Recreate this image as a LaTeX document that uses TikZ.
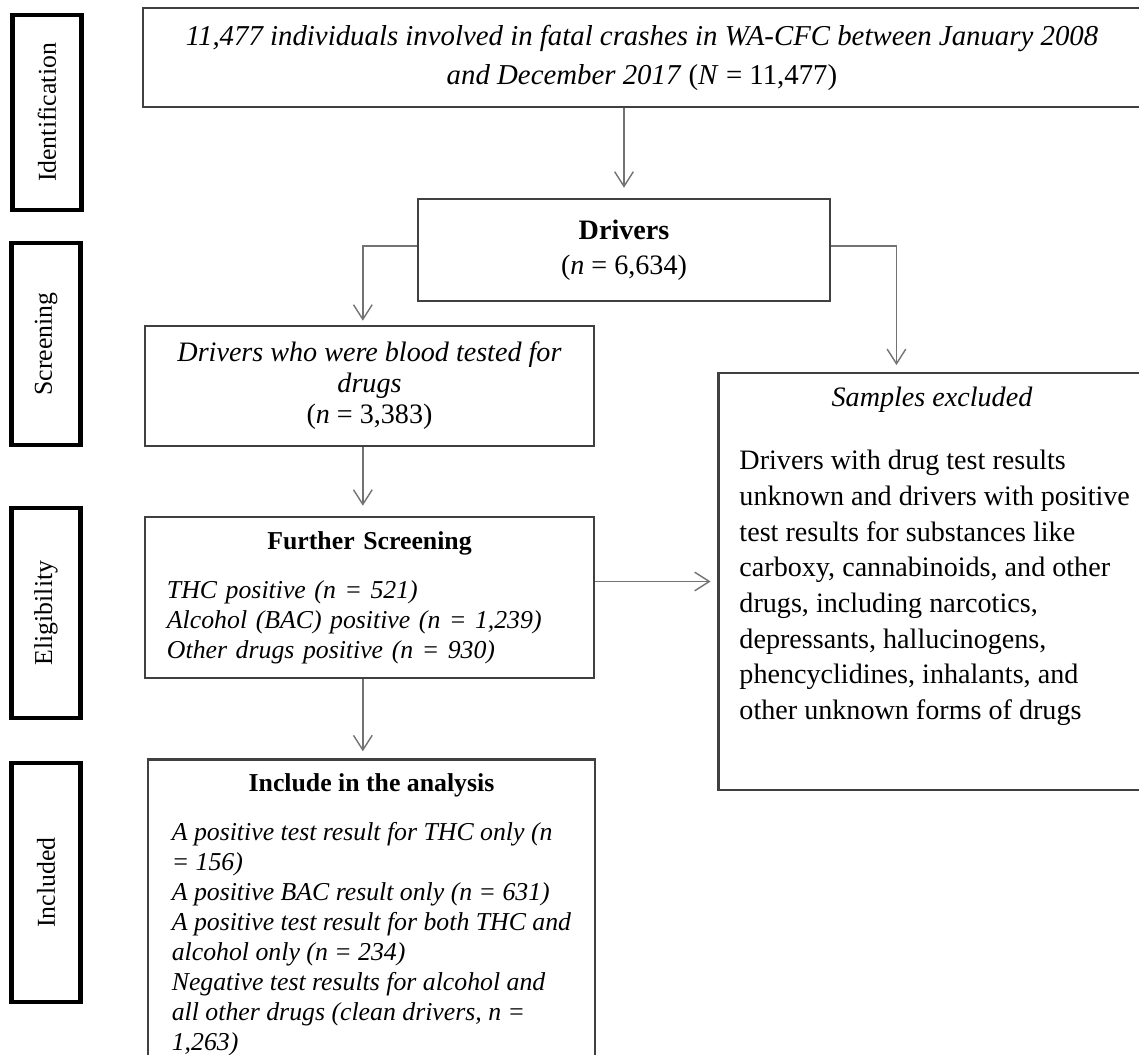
\documentclass[tikz,border=0pt]{standalone}
\usepackage{fontspec}
\setmainfont{Liberation Serif}
\usetikzlibrary{arrows.meta}

\tikzset{
  box/.style={draw=black!75, line width=1.1pt, inner sep=0pt, align=center},
  stage/.style={draw=black, line width=1.8pt, rotate=90, minimum height=1.035cm, inner sep=0pt, font=\fontsize{11}{13}\selectfont},
  link/.style={draw=black!55, line width=0.6pt, -{Straight Barb[length=0.22cm,width=0.28cm]}, shorten >=0.1cm},
}

\begin{document}
\begin{tikzpicture}[x=0.015cm, y=-0.015cm]

  % Rahmen
  \useasboundingbox (0,0) rectangle (1139,1055);
  \clip (0,0) rectangle (1139,1055);

  % Phasen links
  \node[stage, minimum width=2.925cm] (ident) at (47,112.5) {Identification};
  \node[stage, minimum width=3.03cm] (screen) at (46,344) {Screening};
  \node[stage, minimum width=3.15cm] (elig) at (46,613) {Eligibility};
  \node[stage, minimum width=3.585cm] (incl) at (46,882.5) {Included};

  % Kaesten
  \node[box, minimum width=14.97cm, minimum height=1.485cm, font=\fontsize{12.3}{16.6}\selectfont] (cohort) at (642,57.5)
    {\textit{11,477 individuals involved in fatal crashes in WA-CFC between January 2008}\\\textit{and December 2017} (\textit{N} = 11,477)};
  \node[box, minimum width=6.18cm, minimum height=1.53cm, font=\fontsize{12}{14.9}\selectfont] (drv) at (624,250)
    {\textbf{Drivers}\\(\textit{n} = 6,634)};
  \node[box, minimum width=6.735cm, minimum height=1.8cm, font=\fontsize{12}{13.2}\selectfont] (blood) at (369.5,386)
    {\textit{Drivers who were blood tested for}\\\textit{drugs}\\(\textit{n} = 3,383)};
  \node[box, minimum width=6.735cm, minimum height=2.415cm, text width=6.075cm, align=left, font=\fontsize{11}{12.8}\selectfont] (further) at (369.5,597.5)
    {\makebox[\hsize]{\textbf{Further Screening}}\\[8pt]
     \textit{THC positive (n = 521)}\\
     \textit{Alcohol (BAC) positive (n = 1,239)}\\
     \textit{Other drugs positive (n = 930)}};

  % Analyse (unten abgeschnitten)
  \node[box, anchor=north, minimum width=6.705cm, inner xsep=0pt, inner ysep=0.94cm, align=left, font=\fontsize{11}{12.8}\selectfont] (analysis) at (371.5,758)
    {\textit{A positive test result for THC only (n}\\
     \textit{= 156)}\\
     \textit{A positive BAC result only (n = 631)}\\
     \textit{A positive test result for both THC and}\\
     \textit{alcohol only (n = 234)}\\
     \textit{Negative test results for alcohol and}\\
     \textit{all other drugs (clean drivers, n =}\\
     \textit{1,263)}};
  \node[anchor=base, font=\fontsize{11}{13}\selectfont] (analysishead) at (371.5,791) {\textbf{Include in the analysis}};

  % Ausschluss
  \node[box, minimum width=6.336cm, minimum height=6.255cm] (excl) at (929.8,581.5) {};
  \node[anchor=base, font=\fontsize{12}{15}\selectfont] (exclhead) at (932,406.5) {\textit{Samples excluded}};
  \node[anchor=north west, align=left, inner sep=0pt, font=\fontsize{12}{15.2}\selectfont] (excltxt) at (739,450)
    {Drivers with drug test results\\
     unknown and drivers with positive\\
     test results for substances like\\
     carboxy, cannabinoids, and other\\
     drugs, including narcotics,\\
     depressants, hallucinogens,\\
     phencyclidines, inhalants, and\\
     other unknown forms of drugs};

  % Pfeile
  \draw[link, shorten >=0.15cm] (cohort.south -| drv.north) -- (drv.north);
  \draw[link, shorten >=0.06cm] ([yshift=0.06cm]drv.west) -| ([xshift=-0.1cm]blood.north);
  \draw[link] ([yshift=0.06cm]drv.east) -| ([xshift=-0.5cm]excl.north);
  \draw[link, shorten >=0.15cm] ([xshift=-0.1cm]blood.south) -- ([xshift=-0.1cm]further.north);
  \draw[link] ([xshift=-0.1cm]further.south) -- ([xshift=-0.1cm]further.south |- analysis.north);
  \draw[link] (further.east |- excl.west) -- (excl.west);

\end{tikzpicture}
\end{document}
